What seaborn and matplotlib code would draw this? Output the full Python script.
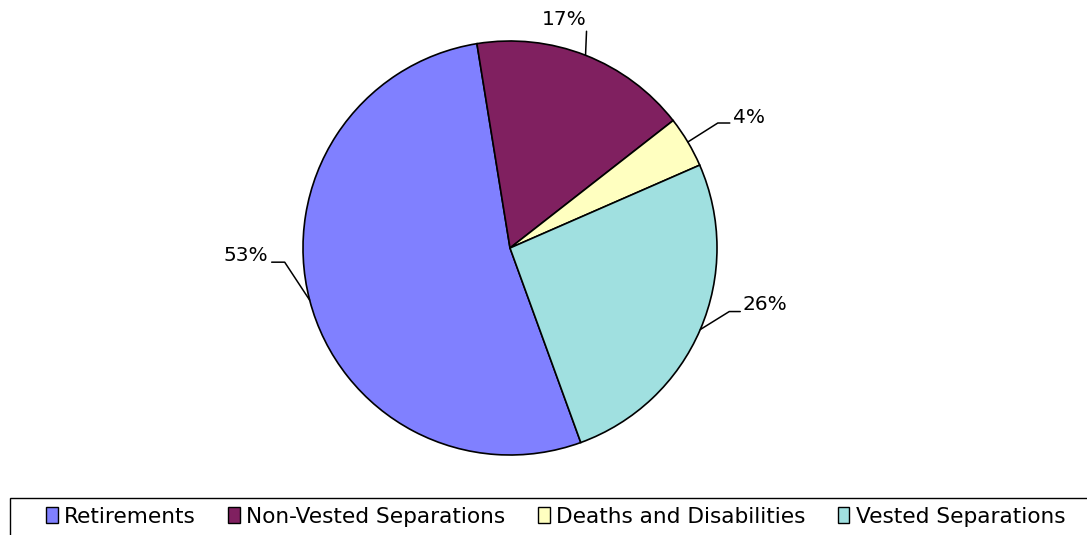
# Pie chart of termination types
import numpy as np
import matplotlib
matplotlib.use('Agg')
import matplotlib.pyplot as plt
import seaborn as sns
from matplotlib.patches import Rectangle, Patch

# data
categories = ['Retirements', 'Non-Vested Separations', 'Deaths and Disabilities', 'Vested Separations']
shares = [53, 17, 4, 26]
labels = ['53%', '17%', '4%', '26%']
colors = ['#8080FF', '#802060', '#FFFFC0', '#A0E0E0']

# leader line layout (pixels): elbow dx, elbow dy, horizontal run, text dx, text dy, ha
label_layout = [
    (-25, 38, -13, -4, 7, 'right'),
    (1, 24, 0, -22, 12, 'center'),
    (30, 19, 12, 3, 6, 'left'),
    (29, 18, 11, 2, 7, 'left'),
]

sns.set_theme(style='white')
plt.rcParams['font.family'] = ['DejaVu Sans']
plt.rcParams['text.color'] = 'black'

W, H = 1087, 535
fig = plt.figure(figsize=(W / 100, H / 100), dpi=100)
cx, cy, r = 510, 248, 207
ax = fig.add_axes([(cx - r) / W, (H - cy - r) / H, 2 * r / W, 2 * r / H])

wedges, _ = ax.pie(shares, colors=colors, startangle=-70, counterclock=False,
                   wedgeprops=dict(edgecolor='black', linewidth=1.2))
ax.set_xlim(-1, 1)
ax.set_ylim(-1, 1)
ax.axis('off')

px = 1 / r
for w, lab, (ex, ey, hx, tx, ty, ha) in zip(wedges, labels, label_layout):
    th = np.deg2rad((w.theta1 + w.theta2) / 2)
    x0, y0 = np.cos(th), np.sin(th)
    x1, y1 = x0 + ex * px, y0 + ey * px
    x2 = x1 + hx * px
    ax.plot([x0, x1, x2], [y0, y1, y1], color='black', lw=1.1, clip_on=False)
    ax.text(x2 + tx * px, y1 + ty * px, lab, ha=ha, va='center', fontsize=14.5,
            color='black', clip_on=False)

handles = [Patch(facecolor=c, edgecolor='black', linewidth=1.0) for c in colors]
leg = fig.legend(handles, categories, loc='center', bbox_to_anchor=(0.511, 0.034), ncol=4,
                 frameon=False, fontsize=15.6, handlelength=0.55, handleheight=0.75,
                 handletextpad=0.28, columnspacing=1.5, borderpad=0)
for t in leg.get_texts():
    t.set_color('black')
fig.patches.append(Rectangle((10 / W, -0.01), 1.0, 37 / H + 0.01, transform=fig.transFigure,
                             fill=False, edgecolor='black', linewidth=1.0))

fig.savefig('out.png', dpi=100, facecolor='white')
